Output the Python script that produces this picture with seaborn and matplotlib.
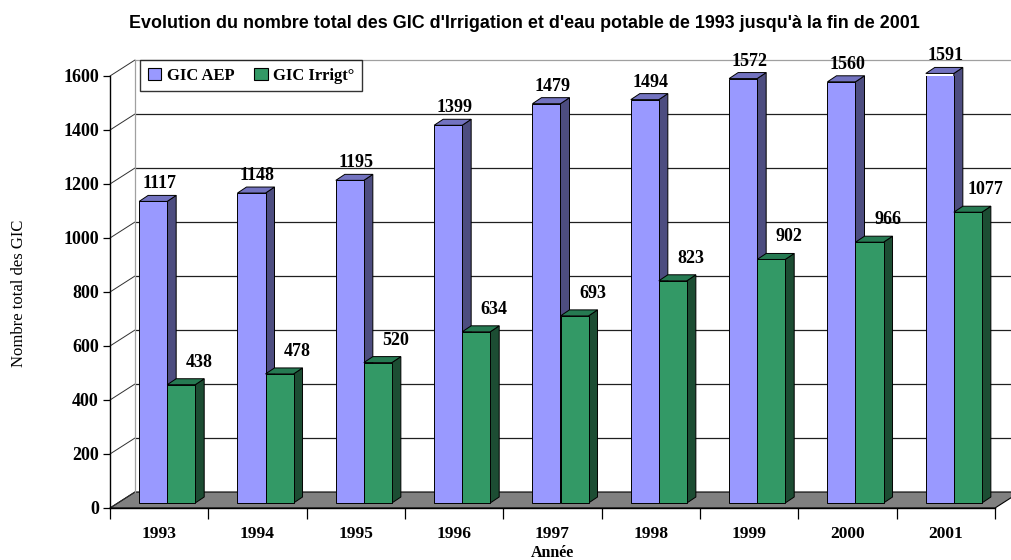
import numpy as np
import pandas as pd
import matplotlib
matplotlib.use("Agg")
import matplotlib.pyplot as plt
import seaborn as sns
from matplotlib import transforms
from matplotlib.patches import Polygon, Patch
from matplotlib.lines import Line2D

# ---- data ----
years = ["1993", "1994", "1995", "1996", "1997", "1998", "1999", "2000", "2001"]
gic_aep = [1117, 1148, 1195, 1399, 1479, 1494, 1572, 1560, 1591]
gic_irrig = [438, 478, 520, 634, 693, 823, 902, 966, 1077]
series_names = ["GIC AEP", "GIC Irrigt°"]
y_ticks = [0, 200, 400, 600, 800, 1000, 1200, 1400, 1600]
title = "Evolution du nombre total des GIC d'Irrigation et d'eau potable de 1993 jusqu'à la fin de 2001"
x_label = "Année"
y_label = "Nombre total des GIC"

df = pd.DataFrame({
    "Année": years * 2,
    "Nombre": gic_aep + gic_irrig,
    "Série": [series_names[0]] * len(years) + [series_names[1]] * len(years),
})

front_cols = ["#9999FF", "#339966"]
side_cols = ["#4D4D80", "#1C4D33"]
top_cols = ["#7373C0", "#267A52"]

sns.set_theme(style="white")
plt.rcParams["font.family"] = ["Liberation Serif", "DejaVu Serif"]
plt.rcParams["text.color"] = "black"
plt.rcParams["xtick.color"] = "black"
plt.rcParams["ytick.color"] = "black"
plt.rcParams["axes.labelcolor"] = "black"

W, H = 1011, 560
fig = plt.figure(figsize=(W / 100, H / 100), dpi=100)
ax = fig.add_axes([110 / W, 52 / H, 885 / W, 432 / H])
ax.set_facecolor("none")

sns.barplot(data=df, x="Année", y="Nombre", hue="Série", palette=front_cols,
            saturation=1, width=0.57, edgecolor="black", linewidth=0.7,
            ax=ax, legend=False)

ax.set_xlim(-0.5, len(years) - 0.5)
ax.set_ylim(0, 1600)

ident = transforms.IdentityTransform()


def px(x, y):
    return np.array(ax.transData.transform((x, y)))


# 3D geometry (pixels)
wall = np.array([25, 16])
bar_off = np.array([8, 5])
bar_depth = np.array([9, 6])

# floor
A = px(-0.5, 0)
B = px(len(years) - 0.5, 0)
floor = Polygon([A, B, B + wall, A + wall], closed=True, facecolor="#808080",
                edgecolor="black", linewidth=0.8, transform=ident, zorder=1,
                clip_on=False)
ax.add_artist(floor)

# back wall gridlines + left wall diagonals
for v in y_ticks:
    p = px(-0.5, v)
    q = px(len(years) - 0.5, v)
    if v > 0:
        ax.add_artist(Line2D([p[0] + wall[0], q[0] + wall[0]],
                             [p[1] + wall[1], q[1] + wall[1]],
                             color="#A0A0A0" if v == 1600 else "#202020",
                             lw=0.9, transform=ident, zorder=1.2, clip_on=False))
    ax.add_artist(Line2D([p[0], p[0] + wall[0]], [p[1], p[1] + wall[1]],
                         color="#303030", lw=0.7, transform=ident, zorder=1.2,
                         clip_on=False))
p0 = px(-0.5, 0) + wall
p1 = px(-0.5, 1600) + wall
ax.add_artist(Line2D([p0[0], p1[0]], [p0[1], p1[1]], color="#A0A0A0", lw=0.9,
                     transform=ident, zorder=1.2, clip_on=False))

# bars: shift fronts and add side/top faces
bar_tr = transforms.offset_copy(ax.transData, fig=fig, x=bar_off[0], y=bar_off[1], units="dots")
label_off = [(14, 14), (26, 19)]
for si, cont in enumerate(ax.containers):
    zf = 3 + 2 * si
    lab_tr = transforms.offset_copy(ax.transData, fig=fig, x=label_off[si][0],
                                    y=label_off[si][1], units="dots")
    for bar in cont:
        bar.set_transform(bar_tr)
        bar.set_zorder(zf)
        x, w, h = bar.get_x(), bar.get_width(), bar.get_height()
        lo = px(x, 0) + bar_off
        hi = px(x + w, h) + bar_off
        side = Polygon([[hi[0], lo[1]], [hi[0] + bar_depth[0], lo[1] + bar_depth[1]],
                        [hi[0] + bar_depth[0], hi[1] + bar_depth[1]], [hi[0], hi[1]]],
                       closed=True, facecolor=side_cols[si], edgecolor="black",
                       linewidth=0.7, transform=ident, zorder=zf - 0.1, clip_on=False)
        top = Polygon([[lo[0], hi[1]], [hi[0], hi[1]],
                       [hi[0] + bar_depth[0], hi[1] + bar_depth[1]],
                       [lo[0] + bar_depth[0], hi[1] + bar_depth[1]]],
                      closed=True, facecolor=top_cols[si], edgecolor="black",
                      linewidth=0.7, transform=ident, zorder=zf - 0.1, clip_on=False)
        ax.add_artist(side)
        ax.add_artist(top)
        ax.text(x + w / 2, h, f"{int(h)}", transform=lab_tr, ha="center", va="bottom",
                fontsize=13, fontweight="bold", color="black", zorder=10, clip_on=False)

# axes styling
for s in ["top", "right"]:
    ax.spines[s].set_visible(False)
for s in ["left", "bottom"]:
    ax.spines[s].set_color("black")
    ax.spines[s].set_linewidth(1.0)
    ax.spines[s].set_zorder(2)

ax.set_yticks(y_ticks)
ax.set_yticklabels([str(v) for v in y_ticks], fontsize=13, fontweight="bold")
ax.tick_params(axis="y", which="major", direction="out", length=5, width=0.9,
               color="black", labelcolor="black", pad=3, left=True)
ax.set_xticks(np.arange(-0.5, len(years), 1.0))
ax.set_xticklabels([])
ax.set_xticks(np.arange(len(years)), minor=True)
ax.set_xticklabels(years, minor=True, fontsize=12.5, fontweight="bold")
ax.tick_params(axis="x", which="major", direction="out", length=8, width=0.9,
               color="black", bottom=True)
ax.tick_params(axis="x", which="minor", length=0, pad=13, labelcolor="black")
ax.set_xlabel("")
ax.set_ylabel("")
ax.grid(False)

# legend
handles = [Patch(facecolor=front_cols[i], edgecolor="black", linewidth=0.8,
                 label=series_names[i]) for i in range(2)]
leg = fig.legend(handles=handles, loc="upper left", bbox_to_anchor=(140 / W, 1 - 60 / H),
                 ncol=2, frameon=True, fancybox=False, shadow=False,
                 prop={"size": 12, "weight": "bold"},
                 handlelength=0.8, handleheight=0.8, handletextpad=0.35,
                 columnspacing=1.2, borderpad=0.45, borderaxespad=0)
leg.get_frame().set_edgecolor("black")
leg.get_frame().set_linewidth(1.0)
for t in leg.get_texts():
    t.set_color("black")

fig.text(524 / W, 1 - 23 / H, title, ha="center", va="center", color="black",
         family=["Liberation Sans", "DejaVu Sans"], fontweight="bold", fontsize=12.9)
fig.text(552 / W, 1 - 553 / H, x_label, ha="center", va="center", color="black",
         fontweight="bold", fontsize=11.5)
fig.text(19 / W, 1 - 293 / H, y_label, ha="center", va="center", color="black",
         rotation=90, fontsize=12)

fig.savefig("out.png", dpi=100)
